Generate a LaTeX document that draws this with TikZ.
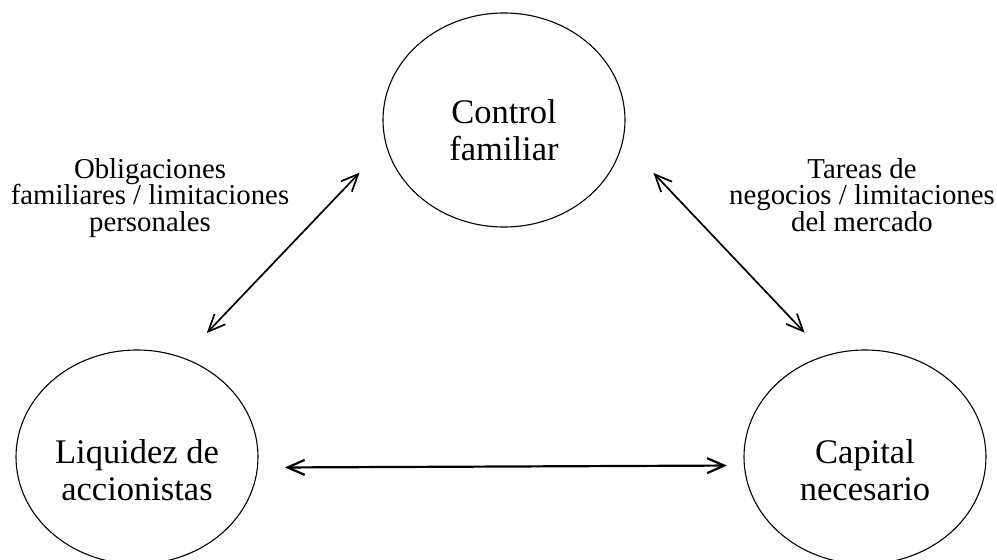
\documentclass[tikz,border=0pt]{standalone}
\usepackage{fontspec}
\setmainfont{Liberation Serif}
\usetikzlibrary{shapes.geometric,arrows.meta}

\tikzset{
  oval/.style={draw, ellipse, line width=1.1pt, inner sep=0pt,
    minimum width=242pt, minimum height=214pt},
  ovaltext/.style={anchor=north, inner sep=0pt, align=center,
    font=\fontsize{34.5}{37}\selectfont},
  linklabel/.style={anchor=north, inner sep=0pt, align=center,
    font=\fontsize{28.8}{26.5}\selectfont},
  link/.style={>={Straight Barb[length=17pt, width=15pt]}, <->,
    line width=1.7pt},
}

\begin{document}
\begin{tikzpicture}[x=1pt, y=-1pt]
  \useasboundingbox (0,0) rectangle (997,560);

  % the three ovals
  \node[oval] (ctl) at (504,120) {};
  \node[oval] (liq) at (137,457) {};
  \node[oval] (cap) at (865,457) {};

  % their texts
  \node[ovaltext] (ctl-t) at (504,99) {Control\\familiar};
  \node[ovaltext] (liq-t) at (137,439) {Liquidez de\\accionistas};
  \node[ovaltext] (cap-t) at (865,439) {Capital\\necesario};

  % labels beside the diagonal links
  \node[linklabel] (left-lbl) at (150,158)
    {Obligaciones\\familiares / limitaciones\\personales};
  \node[linklabel] (right-lbl) at (862,158)
    {Tareas de\\negocios / limitaciones\\del mercado};

  % two-way links
  \draw[link, shorten <=34pt, shorten >=38pt] (liq.65) -- (ctl.192.2);
  \draw[link, shorten <=44pt, shorten >=31pt] (ctl.350.4) -- (cap.111);
  \draw[link, line width=2.2pt, shorten <=27pt, shorten >=17pt] (liq.355.8) -- (cap.184.2);
\end{tikzpicture}
\end{document}
